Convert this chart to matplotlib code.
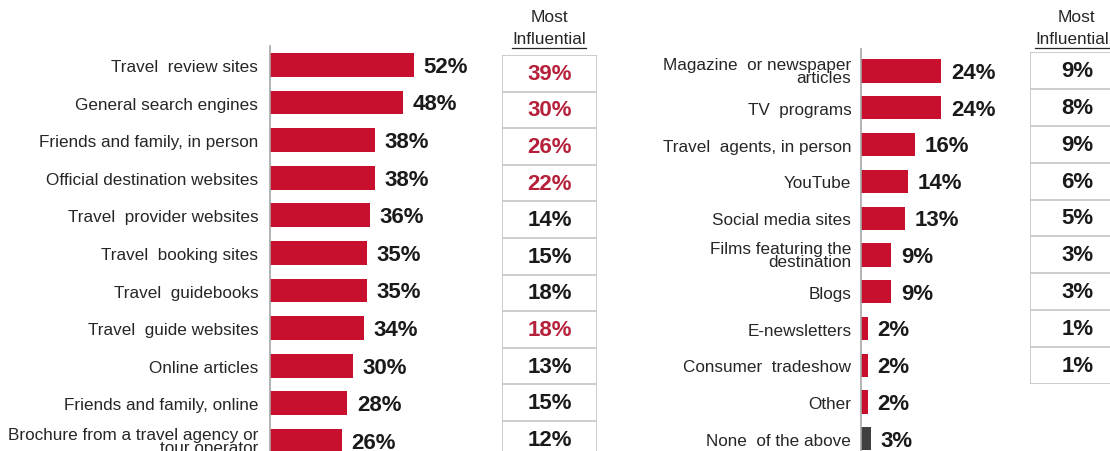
import matplotlib.pyplot as plt
from matplotlib.lines import Line2D

plt.rcParams['font.family'] = ['Liberation Sans', 'DejaVu Sans']

# data
left_labels = ["Travel  review sites", "General search engines", "Friends and family, in person",
               "Official destination websites", "Travel  provider websites", "Travel  booking sites",
               "Travel  guidebooks", "Travel  guide websites", "Online articles",
               "Friends and family, online", "Brochure from a travel agency or\ntour operator"]
left_vals = [52, 48, 38, 38, 36, 35, 35, 34, 30, 28, 26]
left_most = [39, 30, 26, 22, 14, 15, 18, 18, 13, 15, 12]
left_red = [True, True, True, True, False, False, False, True, False, False, False]

right_labels = ["Magazine  or newspaper\narticles", "TV  programs", "Travel  agents, in person",
                "YouTube", "Social media sites", "Films featuring the\ndestination", "Blogs",
                "E-newsletters", "Consumer  tradeshow", "Other", "None  of the above"]
right_vals = [24, 24, 16, 14, 13, 9, 9, 2, 2, 2, 3]
right_most = [9, 8, 9, 6, 5, 3, 3, 1, 1]

RED = '#c8102e'
TXTRED = '#b5213a'
GRAY = '#a6a6a6'
W, H = 1110, 452

fig = plt.figure(figsize=(W / 100, H / 100), dpi=100)


def px_axes(x0, x1, y0, y1):
    # pixel box (top-left origin) -> figure axes
    return fig.add_axes([x0 / W, 1 - y1 / H, (x1 - x0) / W, (y1 - y0) / H])


def bar_panel(x0, x1, y0, y1, labels, vals, xmax, ylim, colors, pad):
    ax = px_axes(x0, x1, y0, y1)
    n = len(vals)
    ys = list(range(n))
    ax.barh(ys, vals, height=0.63, color=colors)
    ax.set_xlim(0, xmax)
    ax.set_ylim(*ylim)
    ax.set_yticks(ys)
    ax.set_yticklabels(labels, fontsize=12.3, color='#262626', linespacing=0.78)
    ax.tick_params(axis='y', length=0, pad=pad)
    ax.set_xticks([])
    for s in ['top', 'right', 'bottom']:
        ax.spines[s].set_visible(False)
    ax.spines['left'].set_color(GRAY)
    ax.spines['left'].set_linewidth(1.2)
    for y, v in zip(ys, vals):
        ax.annotate(f"{v}%", (v, y), xytext=(7, -1), textcoords='offset points',
                    ha='left', va='center', fontsize=16, fontweight='bold', color='#1a1a1a')
    ax.patch.set_alpha(0)
    return ax


def table_panel(x0, x1, y0, y1, vals, nrows, reds):
    ax = px_axes(x0, x1, y0, y1)
    ax.set_xlim(0, 1)
    ax.set_ylim(nrows, 0)
    ax.axis('off')
    for i, v in enumerate(vals):
        ax.text(0.5, i + 0.5, f"{v}%", ha='center', va='center', fontsize=16,
                fontweight='bold', color=TXTRED if reds[i] else '#1a1a1a')
    for i in range(len(vals) + 1):
        ax.plot([0, 1], [i, i], color='#c8c8c8', lw=1.3, clip_on=True)
    ax.plot([0, 0], [0, len(vals)], color='#c8c8c8', lw=1.3)
    ax.plot([1, 1], [0, len(vals)], color='#c8c8c8', lw=1.3)
    return ax


# left panel: rows at 66 + 37.6*i px
lc = [RED] * len(left_vals)
bar_panel(270, 602, 47, 452, left_labels, left_vals, 120, (10.27, -0.505), lc, 8.5)
table_panel(502, 597, 56, 458.6, left_most, 11, left_red)

# right panel: rows at 72 + 36.8*i px
rc = [RED] * (len(right_vals) - 1) + ['#404040']
bar_panel(861, 1112, 50, 452, right_labels, right_vals, 75, (10.33, -0.598), rc, 7)
table_panel(1030, 1125, 53, 385, right_most, 9, [False] * len(right_most))

# headers
heads = []
fig.text(549 / W, 1 - 18 / H, "Most", ha='center', va='center', fontsize=12.5, color='#262626')
heads.append(fig.text(549 / W, 1 - 40 / H, "Influential", ha='center', va='center',
                      fontsize=12.3, color='#262626'))
fig.text(1076 / W, 1 - 18 / H, "Most", ha='center', va='center', fontsize=12.5, color='#262626')
heads.append(fig.text(1109 / W, 1 - 40 / H, "Influential", ha='right', va='center',
                      fontsize=12.3, color='#262626'))

fig.canvas.draw()
r = fig.canvas.get_renderer()
for t in heads:
    bb = t.get_window_extent(r)
    yl = bb.y0 - 1
    fig.add_artist(Line2D([bb.x0 / W, bb.x1 / W], [yl / H, yl / H], color='#262626', lw=0.9,
                          transform=fig.transFigure))

fig.savefig('out.png', dpi=100)
